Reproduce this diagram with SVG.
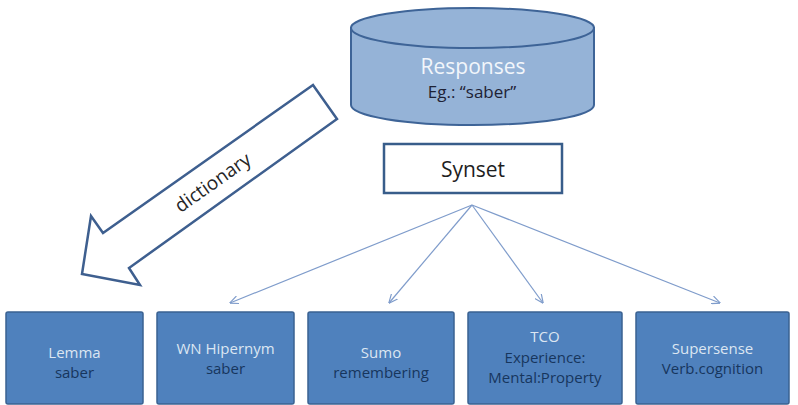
<svg xmlns="http://www.w3.org/2000/svg" width="798" height="405" viewBox="0 0 798 405">
<defs>
<style>
.t{font-family:"Open Sans","Liberation Sans",sans-serif;text-anchor:middle}
.box{fill:#4F81BD;stroke:#3A6191;stroke-width:1.5}
.l1{fill:#DCE6F2;font-size:15px}
.l2{fill:#17365D;font-size:15px}
.conn{stroke:#7F9CCB;stroke-width:1.2;fill:none;marker-end:url(#ah)}
</style>
<marker id="ah" viewBox="0 0 10 10" refX="9.5" refY="5" markerWidth="9" markerHeight="9" markerUnits="userSpaceOnUse" orient="auto">
<path d="M0,0.5 L10,5 L0,9.5" fill="none" stroke="#7F9CCB" stroke-width="1.3"/>
</marker>
</defs>
<rect width="798" height="405" fill="#FFFFFF"/>

<g id="responses">
<path d="M351,28 L351,105 A121.5,20 0 0 0 594,105 L594,28 Z" fill="#95B3D7" stroke="#3E6497" stroke-width="2"/>
<ellipse cx="472.5" cy="28" rx="121.5" ry="20" fill="#95B3D7" stroke="#3E6497" stroke-width="2"/>
<text class="t" x="473" y="74" font-size="21" fill="#F2F6FB">Responses</text>
<text class="t" x="472" y="98" font-size="17" fill="#1E2235">Eg.: “saber”</text>
</g>

<g id="dictionary">
<polygon points="313,85 103,233 91,216 82,274 140,285 129,268 337,119" fill="#FFFFFF" stroke="#3E5F8F" stroke-width="2.5" stroke-linejoin="miter"/>
<text class="t" x="0" y="0" font-size="19" fill="#262626" transform="translate(213,183) rotate(-35.2)" dy="6">dictionary</text>
</g>

<g id="synset">
<rect x="384" y="144" width="178" height="49" fill="#FFFFFF" stroke="#385D8A" stroke-width="2.5"/>
<text class="t" x="473" y="177" font-size="21" fill="#1E1E1E">Synset</text>
</g>

<g id="connectors">
<line class="conn" x1="472" y1="205" x2="230" y2="303"/>
<line class="conn" x1="472" y1="205" x2="389" y2="303"/>
<line class="conn" x1="472" y1="205" x2="543" y2="303"/>
<line class="conn" x1="472" y1="205" x2="720" y2="303"/>
</g>

<g id="lemma">
<rect class="box" x="6" y="312" width="137" height="92" rx="2"/>
<text class="t l1" x="74.5" y="358">Lemma</text>
<text class="t l2" x="74.5" y="378">saber</text>
</g>
<g id="wn-hipernym">
<rect class="box" x="157" y="312" width="137" height="92" rx="2"/>
<text class="t l1" x="225.5" y="354">WN Hipernym</text>
<text class="t l2" x="225.5" y="374">saber</text>
</g>
<g id="sumo">
<rect class="box" x="308" y="312" width="146" height="92" rx="2"/>
<text class="t l1" x="381" y="358">Sumo</text>
<text class="t l2" x="381" y="378">remembering</text>
</g>
<g id="tco">
<rect class="box" x="468" y="312" width="154" height="92" rx="2"/>
<text class="t l1" x="545" y="342">TCO</text>
<text class="t l2" x="545" y="363">Experience:</text>
<text class="t l2" x="545" y="383">Mental:Property</text>
</g>
<g id="supersense">
<rect class="box" x="636" y="312" width="153" height="92" rx="2"/>
<text class="t l1" x="712.5" y="354">Supersense</text>
<text class="t l2" x="712.5" y="374">Verb.cognition</text>
</g>
</svg>
